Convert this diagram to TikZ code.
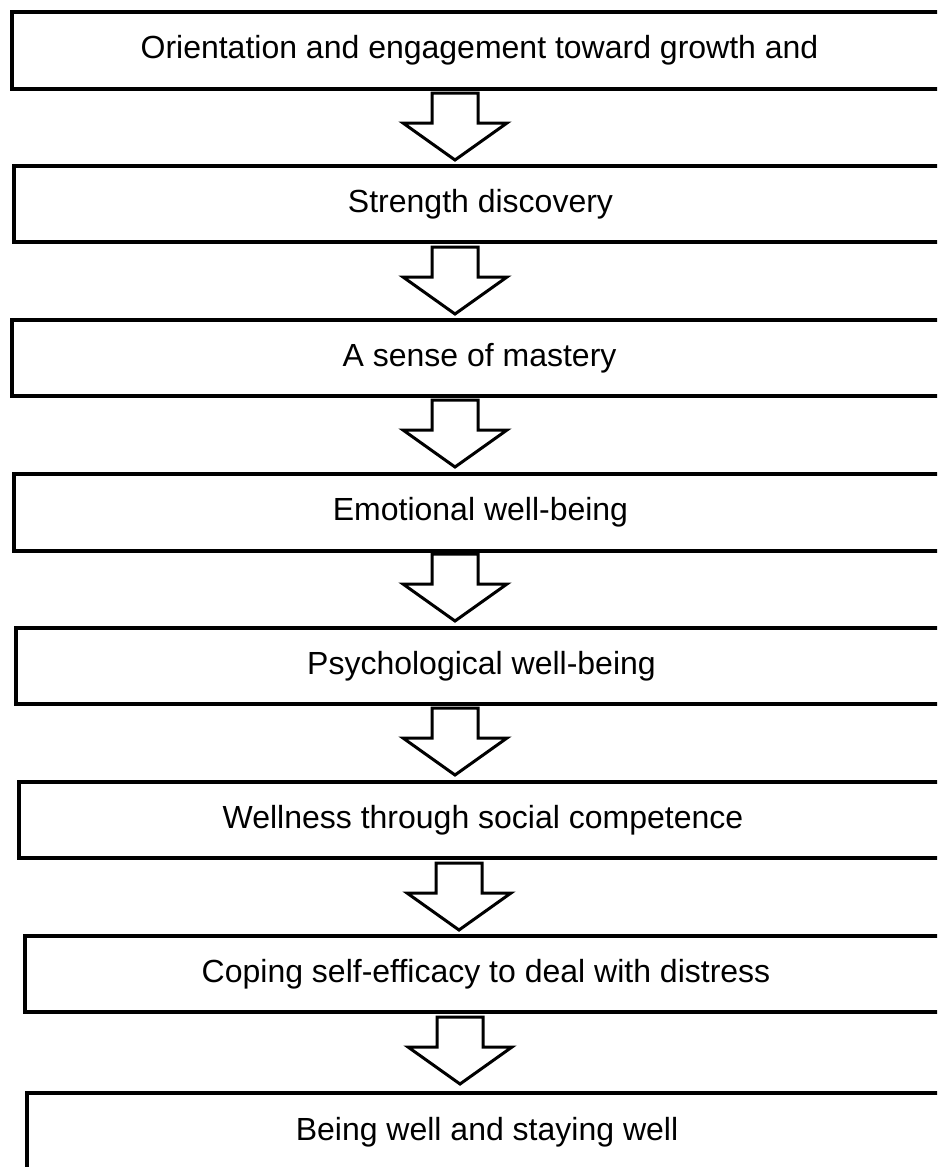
\documentclass[tikz,border=0pt]{standalone}
\usepackage{fontspec}
\setmainfont{Liberation Sans}
\begin{document}
\begin{tikzpicture}[x=1pt,y=1pt,
  stagebox/.style={draw=black, line width=4pt, fill=white, anchor=north west,
    inner sep=0pt, font=\fontsize{32}{38}\selectfont},
  pics/downarrow/.style={code={
    \draw[line width=3pt, line join=miter, fill=white]
      (-23,0) -- (23,0) -- (23,-30) -- (52,-30) -- (0,-67) -- (-52,-30) -- (-23,-30) -- cycle;}}
]
\useasboundingbox (0,0) rectangle (937,-1167);
\clip (0,0) rectangle (937,-1167);
\fill[white] (0,0) rectangle (937,-1167);

\node[stagebox, minimum width=935, minimum height=77] (b1) at (10,-10) {Orientation and engagement toward growth and};
\node[stagebox, minimum width=933, minimum height=76] (b2) at (12,-164) {Strength discovery};
\node[stagebox, minimum width=935, minimum height=76] (b3) at (10,-318) {A sense of mastery};
\node[stagebox, minimum width=933, minimum height=77] (b4) at (12,-472) {Emotional well-being};
\node[stagebox, minimum width=931, minimum height=76] (b5) at (14,-626) {Psychological well-being};
\node[stagebox, minimum width=928, minimum height=76] (b6) at (17,-780) {Wellness through social competence};
\node[stagebox, minimum width=922, minimum height=76] (b7) at (23,-934) {Coping self-efficacy to deal with distress};
\node[stagebox, minimum width=920, minimum height=78] (b8) at (25,-1091) {Being well and staying well};

\coordinate (a1) at (455,-93);
\coordinate (a2) at (455,-247);
\coordinate (a3) at (455,-400);
\coordinate (a4) at (455,-554);
\coordinate (a5) at (455,-708);
\coordinate (a6) at (459,-863);
\coordinate (a7) at (460,-1017);
\foreach \c in {a1,a2,a3,a4,a5,a6,a7} { \pic at (\c) {downarrow}; }
\end{tikzpicture}
\end{document}
